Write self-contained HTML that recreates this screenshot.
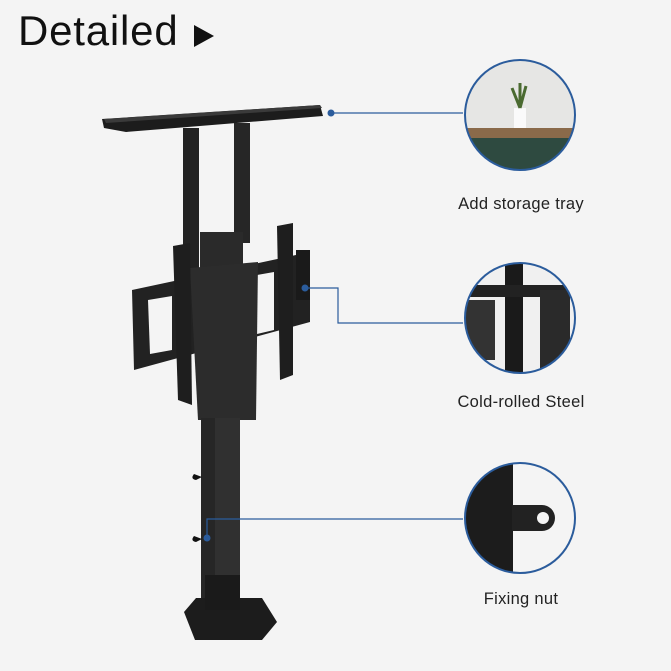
<!DOCTYPE html>
<html><head><meta charset="utf-8"><style>
html,body{margin:0;padding:0;background:#f4f4f4;}
body{width:671px;height:671px;overflow:hidden;position:relative;font-family:"Liberation Sans",sans-serif;}
.t{position:absolute;left:18px;top:7px;font-size:42px;color:#111;letter-spacing:0.8px;}
.l{position:absolute;font-size:16.5px;color:#222;width:200px;text-align:center;letter-spacing:0.3px;}
</style></head><body>
<svg width="671" height="671" style="position:absolute;left:0;top:0">
<polygon points="194,25 214,36 194,47" fill="#111"/>
<!-- tray -->
<polygon points="102,119 320,105 323,116 126,132 104,128" fill="#1c1c1c"/>
<polygon points="104,119 320,105 322,108 106,123" fill="#3a3a3a"/>
<!-- posts -->
<rect x="183" y="128" width="16" height="150" fill="#222"/>
<rect x="234" y="123" width="16" height="120" fill="#262626"/>
<rect x="200" y="232" width="43" height="40" fill="#2a2a2a"/>
<!-- bracket -->
<polygon points="132,290 310,252 310,322 134,370" fill="#222"/>
<polygon points="148,300 172,296 172,350 150,354" fill="#f4f4f4"/>
<polygon points="257,275 274,272 274,330 257,334" fill="#f4f4f4"/>
<!-- main plate -->
<polygon points="190,268 258,262 256,420 198,420" fill="#2c2c2c"/>
<!-- rails -->
<polygon points="173,246 190,243 192,405 178,400" fill="#1e1e1e"/>
<polygon points="277,226 293,223 293,375 280,380" fill="#1e1e1e"/>
<rect x="296" y="250" width="14" height="50" fill="#1a1a1a"/>
<!-- pole -->
<rect x="201" y="418" width="39" height="185" fill="#262626"/>
<rect x="215" y="418" width="25" height="185" fill="#303030"/>
<path d="M194,474 q-4,5 2,6 l6,-3z M194,536 q-4,5 2,6 l6,-3z" fill="#111"/>
<!-- base -->
<polygon points="196,598 262,598 277,622 262,640 195,640 184,612" fill="#1c1c1c"/>
<rect x="205" y="575" width="35" height="35" fill="#1a1a1a"/>
<!-- connectors -->
<g stroke="#2b5c9c" stroke-width="1.2" fill="none">
<line x1="331" y1="113" x2="463" y2="113"/>
<polyline points="305,288 338,288 338,323 463,323"/>
<polyline points="207,538 207,519 463,519"/>
</g>
<circle cx="331" cy="113" r="3.5" fill="#2b5c9c"/>
<circle cx="305" cy="288" r="3.5" fill="#2b5c9c"/>
<circle cx="207" cy="538" r="3.5" fill="#2b5c9c"/>
<defs>
<clipPath id="c1"><circle cx="520" cy="115" r="55"/></clipPath>
<clipPath id="c2"><circle cx="520" cy="318" r="55"/></clipPath>
<clipPath id="c3"><circle cx="520" cy="518" r="55"/></clipPath>
</defs>
<g clip-path="url(#c1)">
<rect x="460" y="55" width="120" height="120" fill="#e6e6e4"/>
<rect x="460" y="128" width="120" height="10" fill="#8a6a4a"/>
<rect x="460" y="138" width="120" height="40" fill="#2e4a40"/>
<rect x="514" y="108" width="12" height="20" fill="#fafafa"/>
<path d="M520,108 l-8,-20 M520,108 l6,-22 M520,108 l0,-25" stroke="#4a6a30" stroke-width="3"/>
</g>
<circle cx="520" cy="115" r="55" fill="none" stroke="#2b5c9c" stroke-width="2"/>
<g clip-path="url(#c2)">
<rect x="460" y="258" width="120" height="120" fill="#f0f0f0"/>
<rect x="505" y="258" width="18" height="120" fill="#1a1a1a"/>
<rect x="460" y="285" width="120" height="12" fill="#222"/>
<rect x="540" y="290" width="30" height="90" fill="#2a2a2a"/>
<rect x="465" y="300" width="30" height="60" fill="#333"/>
</g>
<circle cx="520" cy="318" r="55" fill="none" stroke="#2b5c9c" stroke-width="2"/>
<g clip-path="url(#c3)">
<rect x="460" y="458" width="120" height="120" fill="#f4f4f4"/>
<rect x="460" y="458" width="53" height="120" fill="#1c1c1c"/>
<path d="M512,505 h30 a13,13 0 0 1 0,26 h-30z" fill="#222"/>
<circle cx="543" cy="518" r="6" fill="#f4f4f4"/>
</g>
<circle cx="520" cy="518" r="55" fill="none" stroke="#2b5c9c" stroke-width="2"/>
</svg>
<div class="t">Detailed</div>
<div class="l" style="left:421px;top:195px">Add storage tray</div>
<div class="l" style="left:421px;top:393px">Cold-rolled Steel</div>
<div class="l" style="left:421px;top:590px">Fixing nut</div>
</body></html>
